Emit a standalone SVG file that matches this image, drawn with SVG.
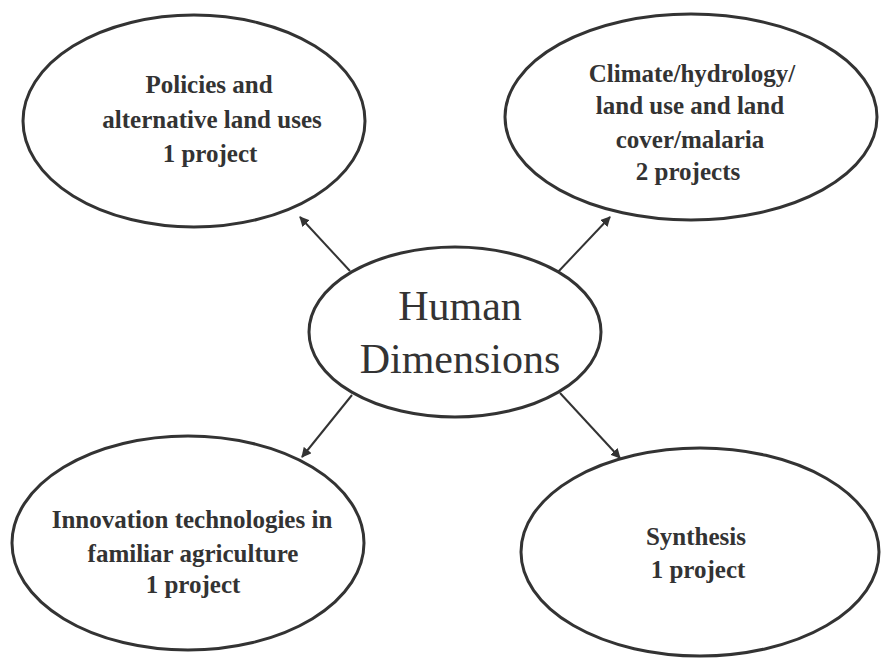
<svg xmlns="http://www.w3.org/2000/svg" width="881" height="658" viewBox="0 0 881 658">
<defs>
<marker id="ah" viewBox="0 0 10 10" refX="9" refY="5" markerWidth="5" markerHeight="5" orient="auto" markerUnits="strokeWidth">
<path d="M0,0 L10,5 L0,10 z" fill="#333"/>
</marker>
<style>
.node{fill:#fff;stroke:#333;stroke-width:3}
.t{font-family:"Liberation Serif","Times New Roman",serif;font-weight:bold;font-size:25px;fill:#333;text-anchor:middle}
.c{font-family:"Liberation Serif","Times New Roman",serif;font-size:42px;fill:#333;text-anchor:middle}
.edge{stroke:#333;stroke-width:2;fill:none;marker-end:url(#ah)}
</style>
</defs>
<rect width="881" height="658" fill="#fff"/>
<g id="connectors">
<line class="edge" x1="350" y1="271" x2="300" y2="217"/>
<line class="edge" x1="558" y1="272" x2="610" y2="217"/>
<line class="edge" x1="352" y1="395" x2="302" y2="457"/>
<line class="edge" x1="560" y1="393" x2="620" y2="458"/>
</g>
<g id="policies">
<ellipse class="node" cx="194" cy="121" rx="171" ry="106"/>
<text class="t" x="209" y="93">Policies and</text>
<text class="t" x="212" y="128">alternative land uses</text>
<text class="t" x="210" y="162">1 project</text>
</g>
<g id="climate">
<ellipse class="node" cx="691" cy="117" rx="186" ry="103"/>
<text class="t" x="692" y="82">Climate/hydrology/</text>
<text class="t" x="690" y="114">land use and land</text>
<text class="t" x="690" y="148">cover/malaria</text>
<text class="t" x="688" y="180">2 projects</text>
</g>
<g id="human">
<ellipse class="node" cx="455" cy="332" rx="146" ry="85"/>
<text class="c" x="460" y="320">Human</text>
<text class="c" x="460" y="373">Dimensions</text>
</g>
<g id="innovation">
<ellipse class="node" cx="188" cy="543" rx="176" ry="107"/>
<text class="t" x="192" y="528">Innovation technologies in</text>
<text class="t" x="193" y="562">familiar agriculture</text>
<text class="t" x="193" y="593">1 project</text>
</g>
<g id="synthesis">
<ellipse class="node" cx="700" cy="552" rx="179" ry="104"/>
<text class="t" x="696" y="545">Synthesis</text>
<text class="t" x="698" y="578">1 project</text>
</g>
</svg>
